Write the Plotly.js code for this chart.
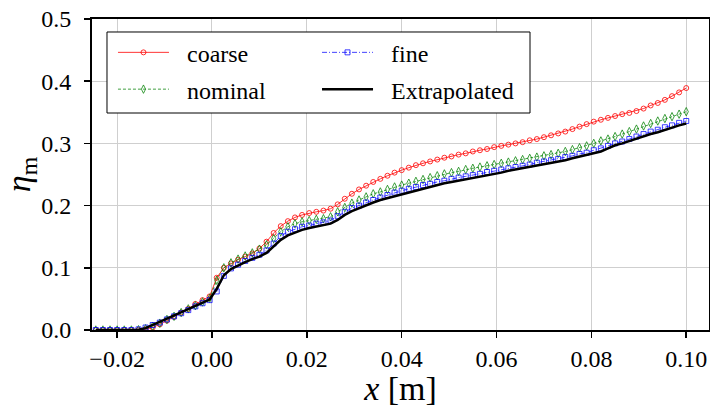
<!DOCTYPE html>
<html>
<head>
<meta charset="utf-8">
<script src="https://cdn.plot.ly/plotly-3.0.1.min.js"></script>
<style>html,body{margin:0;padding:0;background:#fff;}#chart{width:710px;height:407px;}</style>
</head>
<body>
<div id="chart"></div>
<script>
const xPos = [-0.0245,-0.023,-0.0215,-0.02,-0.0185,-0.017,-0.0155,-0.014,-0.0125,-0.011,-0.0095,-0.008,-0.0065,-0.005,-0.0035,-0.002,-0.0005,0.001,0.0025,0.004,0.0055,0.007,0.0085,0.01,0.0115,0.013,0.0145,0.016,0.0175,0.019,0.0205,0.022,0.0235,0.025,0.0265,0.028,0.0295,0.031,0.0325,0.034,0.0355,0.037,0.0385,0.04,0.0415,0.043,0.0445,0.046,0.0475,0.049,0.0505,0.052,0.0535,0.055,0.0565,0.058,0.0595,0.061,0.0625,0.064,0.0655,0.067,0.0685,0.07,0.0715,0.073,0.0745,0.076,0.0775,0.079,0.0805,0.082,0.0835,0.085,0.0865,0.088,0.0895,0.091,0.0925,0.094,0.0955,0.097,0.0985,0.1];

const coarse = [0,0,0,0,0,0,0,0.001,0.004,0.009,0.015,0.021,0.028,0.034,0.042,0.048,0.054,0.084,0.100,0.107,0.113,0.118,0.123,0.131,0.142,0.156,0.167,0.175,0.181,0.185,0.188,0.190,0.192,0.195,0.202,0.211,0.219,0.226,0.232,0.238,0.243,0.248,0.253,0.257,0.261,0.265,0.268,0.271,0.274,0.277,0.279,0.282,0.284,0.287,0.289,0.291,0.294,0.296,0.298,0.300,0.302,0.305,0.307,0.310,0.313,0.316,0.319,0.323,0.327,0.331,0.335,0.338,0.341,0.344,0.347,0.349,0.352,0.356,0.361,0.365,0.370,0.376,0.382,0.389];

const nominal = [0,0,0,0,0,0,0.0005,0.002,0.006,0.011,0.017,0.022,0.028,0.034,0.039,0.045,0.051,0.080,0.100,0.108,0.114,0.119,0.124,0.130,0.137,0.147,0.158,0.166,0.171,0.174,0.176,0.178,0.179,0.182,0.190,0.197,0.204,0.209,0.214,0.219,0.222,0.226,0.230,0.233,0.236,0.239,0.242,0.245,0.248,0.251,0.253,0.255,0.258,0.260,0.262,0.264,0.266,0.268,0.270,0.272,0.274,0.276,0.278,0.280,0.282,0.284,0.287,0.290,0.293,0.296,0.300,0.304,0.307,0.311,0.315,0.319,0.323,0.328,0.332,0.336,0.340,0.343,0.347,0.351];

const fine = [0,0,0,0,0,0,0.001,0.004,0.008,0.012,0.017,0.022,0.027,0.032,0.038,0.043,0.048,0.062,0.087,0.099,0.105,0.111,0.116,0.121,0.128,0.139,0.151,0.158,0.162,0.166,0.168,0.171,0.173,0.176,0.183,0.190,0.196,0.200,0.205,0.209,0.213,0.217,0.221,0.224,0.227,0.230,0.233,0.235,0.238,0.240,0.243,0.245,0.247,0.249,0.251,0.254,0.256,0.258,0.260,0.262,0.264,0.266,0.269,0.271,0.273,0.275,0.278,0.280,0.283,0.285,0.289,0.292,0.296,0.300,0.303,0.307,0.311,0.315,0.319,0.322,0.326,0.329,0.333,0.336];

const extrapolated = [0,0,0,0,0,0,0.0005,0.003,0.008,0.013,0.018,0.023,0.028,0.033,0.038,0.044,0.049,0.066,0.088,0.098,0.104,0.109,0.114,0.118,0.124,0.134,0.145,0.152,0.157,0.161,0.164,0.166,0.169,0.171,0.177,0.185,0.191,0.196,0.201,0.205,0.209,0.212,0.216,0.219,0.222,0.225,0.228,0.231,0.233,0.236,0.238,0.240,0.243,0.245,0.247,0.249,0.251,0.253,0.256,0.258,0.260,0.262,0.264,0.266,0.268,0.271,0.273,0.276,0.279,0.281,0.284,0.287,0.292,0.297,0.300,0.304,0.308,0.311,0.315,0.318,0.322,0.325,0.329,0.332];

const xTicks = [-0.02, 0.00, 0.02, 0.04, 0.06, 0.08, 0.10];
const yTicks = [0.0, 0.1, 0.2, 0.3, 0.4, 0.5];
const seriesNames = ['coarse', 'nominal', 'fine', 'Extrapolated'];

const FONT = '"Liberation Serif", "Times New Roman", serif';
const lab = s => '\u00a0\u00a0' + '<span style="font-size:24px">' + s + '</span>';

const traces = [
  {x: xPos, y: coarse, name: lab(seriesNames[0]), legend: 'legend', mode: 'lines+markers',
   line: {color: 'rgba(255,0,0,0.8)', width: 1},
   marker: {symbol: 'circle-open', size: 5, color: 'rgba(255,0,0,0.8)', line: {width: 1}}},
  {x: xPos, y: nominal, name: lab(seriesNames[1]), legend: 'legend', mode: 'lines+markers',
   line: {color: 'rgba(0,128,0,0.75)', width: 1, dash: '3px,2px'},
   marker: {symbol: 'diamond-tall-open', size: 6, color: 'rgba(0,128,0,0.75)', line: {width: 1}}},
  {x: xPos, y: fine, name: lab(seriesNames[2]), legend: 'legend2', mode: 'lines+markers',
   line: {color: 'rgba(0,0,255,0.75)', width: 1, dash: '5px,2px,1px,2px'},
   marker: {symbol: 'square-open', size: 5, color: 'rgba(0,0,255,0.75)', line: {width: 1}}},
  {x: xPos, y: extrapolated, name: lab(seriesNames[3]), legend: 'legend2', mode: 'lines',
   line: {color: '#000000', width: 2.5}}
];

const legendBase = {
  orientation: 'v', y: 0.968, xanchor: 'left', yanchor: 'top',
  bgcolor: 'rgba(0,0,0,0)', borderwidth: 0,
  font: {family: FONT, size: 26, color: '#000000'},
  itemwidth: 51, traceorder: 'normal'
};

const layout = {
  width: 710, height: 407,
  margin: {l: 92, r: 1, t: 19, b: 77},
  paper_bgcolor: '#ffffff', plot_bgcolor: '#ffffff',
  font: {family: FONT, size: 24, color: '#000000'},
  showlegend: true,
  legend: Object.assign({}, legendBase, {x: 0.034}),
  legend2: Object.assign({}, legendBase, {x: 0.3647}),
  shapes: [{
    type: 'rect', xref: 'paper', yref: 'paper', layer: 'above',
    x0: 0.0243, x1: 0.7099, y0: 0.6977, y1: 0.9582,
    line: {color: '#000000', width: 1}, fillcolor: '#ffffff'
  }],
  xaxis: {
    range: [-0.0253, 0.1048],
    tickvals: xTicks, tickformat: '.2f',
    showgrid: true, gridcolor: '#cfcfcf', gridwidth: 1,
    showline: true, linecolor: '#000000', linewidth: 2, mirror: true,
    ticks: 'outside', ticklen: 6, tickwidth: 1.5, tickcolor: '#000000',
    zeroline: false,
    tickfont: {family: FONT, size: 24, color: '#000000'},
    title: {text: '<i>x</i> [m]', font: {family: FONT, size: 34, color: '#000000'}, standoff: 11}
  },
  yaxis: {
    range: [0, 0.5],
    tickvals: yTicks, tickformat: '.1f',
    showgrid: true, gridcolor: '#cfcfcf', gridwidth: 1,
    showline: true, linecolor: '#000000', linewidth: 2, mirror: true,
    ticks: 'outside', ticklen: 6, tickwidth: 1.5, tickcolor: '#000000',
    ticklabelstandoff: 8,
    zeroline: false,
    tickfont: {family: FONT, size: 24, color: '#000000'},
    title: {text: '<i>η</i><sub>m</sub>', font: {family: FONT, size: 34, color: '#000000'}, standoff: 17}
  }
};

Plotly.newPlot('chart', traces, layout, {displayModeBar: false, staticPlot: true});
</script>
</body>
</html>
